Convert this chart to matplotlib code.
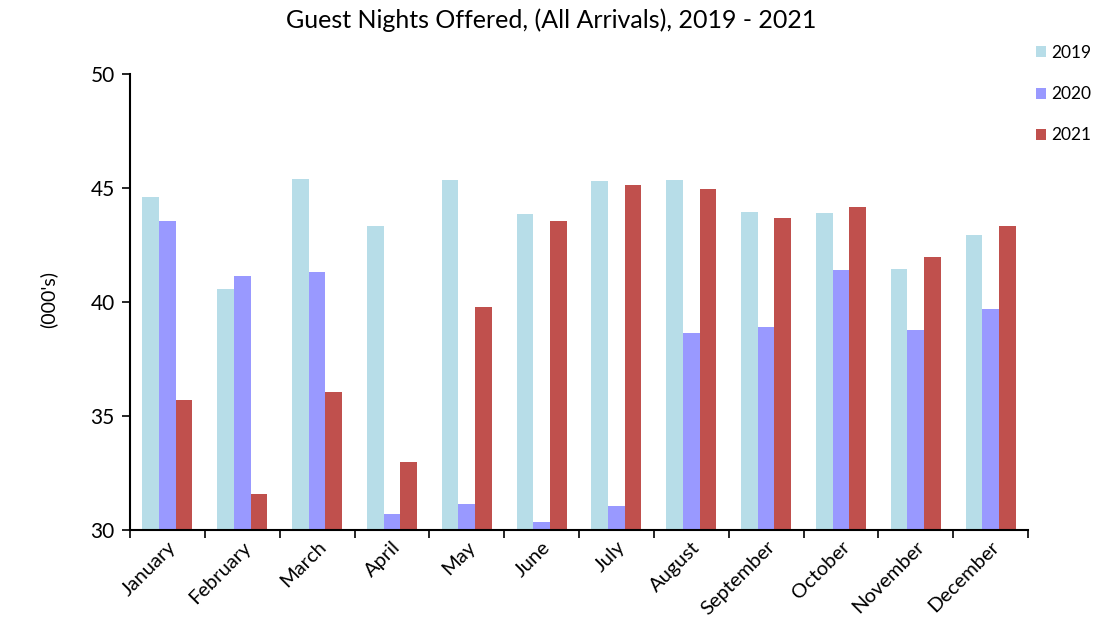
import matplotlib
matplotlib.use("Agg")
import matplotlib.pyplot as plt
import numpy as np

months = ["January", "February", "March", "April", "May", "June", "July",
          "August", "September", "October", "November", "December"]
years = ["2019", "2020", "2021"]
v2019 = [44.6, 40.57, 45.4, 43.32, 45.35, 43.87, 45.31, 45.37, 43.93, 43.92, 41.43, 42.94]
v2020 = [43.54, 41.13, 41.32, 30.70, 31.14, 30.35, 31.05, 38.65, 38.90, 41.40, 38.77, 39.69]
v2021 = [35.70, 31.57, 36.04, 32.98, 39.78, 43.54, 45.15, 44.94, 43.70, 44.17, 41.97, 43.35]
colors = ["#B7DDE8", "#9999FF", "#C0504D"]

plt.rcParams['font.family'] = ['Lato', 'DejaVu Sans']

fig = plt.figure(figsize=(10.97, 6.37), dpi=100)
ax = fig.add_axes([130/1097, 1-530/637, (1028-130)/1097, (530-74)/637])

x = np.arange(len(months)) + 0.5
w = 0.223
series = [v2019, v2020, v2021]
for i, (vals, c, lab) in enumerate(zip(series, colors, years)):
    ax.bar(x + (i-1)*w, np.array(vals) - 30, bottom=30, width=w, color=c,
           label=lab, edgecolor='none')

ax.set_xlim(0, 12)
ax.set_ylim(30, 50)
ax.set_yticks([30, 35, 40, 45, 50])
ax.tick_params(axis='y', labelsize=15, length=6, direction='out', width=1.2, pad=5)
ax.set_xticks(np.arange(0, 13))
ax.set_xticklabels([])
ax.tick_params(axis='x', which='major', length=6, width=1.2, direction='out')
ax.set_xticks(x, minor=True)
ax.set_xticklabels(months, minor=True, rotation=45, ha='right', va='top',
                   rotation_mode='anchor', fontsize=14.5)
ax.tick_params(axis='x', which='minor', length=0, pad=6)
for s in ['top', 'right']:
    ax.spines[s].set_visible(False)
for s in ['left', 'bottom']:
    ax.spines[s].set_linewidth(1.5)

fig.text(551/1097, 1-20/637, "Guest Nights Offered, (All Arrivals), 2019 - 2021",
         ha='center', va='center', fontsize=18)
fig.text(48/1097, 1-300/637, "(000's)", rotation=90, ha='center', va='center', fontsize=14)

fig.legend(loc='upper left', bbox_to_anchor=(1036/1097, 1-45/637), frameon=False,
           fontsize=12.5, handlelength=0.6, handleheight=0.6, handletextpad=0.3,
           labelspacing=1.45, borderpad=0, borderaxespad=0)

fig.savefig("out.png", dpi=100)
